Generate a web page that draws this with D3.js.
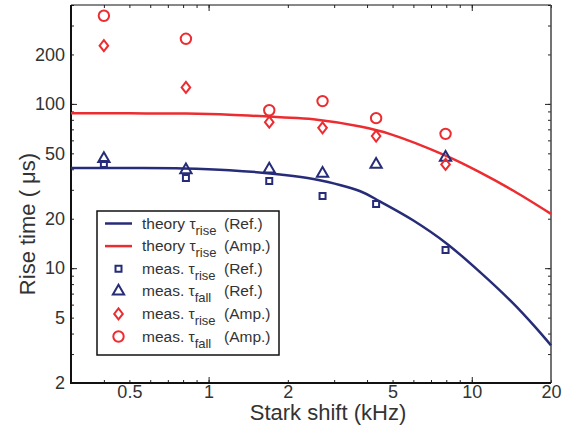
<!DOCTYPE html>
<html>
<head>
<meta charset="utf-8">
<script src="https://cdn.jsdelivr.net/npm/d3@7"></script>
<style>
  body { margin: 0; background: #fff; }
  text { font-family: "Liberation Sans", Arial, sans-serif; fill: #333; }
</style>
</head>
<body>
<div id="app"></div>
<script>
// measured stark shifts (kHz)
const measX = [0.4, 0.82, 1.7, 2.71, 4.33, 7.95];
const refRise = [43, 35.4, 33.9, 27.5, 24.6, 12.9];
const refFall = [46.4, 39.6, 40, 37.7, 42.8, 47.2];
const ampRise = [226, 126, 77.4, 71.5, 63.7, 42.8];
const ampFall = [344, 249, 91.5, 104, 81.9, 65.7];

// theory curves
const theoryRefX = [0.3, 0.5, 0.8, 1.2, 1.87, 2.5, 3.77, 4.49, 6.0, 8.04, 10.75, 14.4, 17.4, 20];
const theoryRefY = [40.7, 40.7, 40.5, 39.5, 37.2, 34.9, 29.4, 25.4, 19.5, 14.1, 9.46, 6.08, 4.39, 3.39];
const theoryAmpX = [0.3, 0.5, 0.82, 1.2, 1.87, 2.5, 3.77, 4.9, 8.04, 10.75, 14.4, 20];
const theoryAmpY = [87.8, 87.6, 87.3, 86, 83, 80.7, 72.8, 65.5, 48.1, 38.3, 29.6, 21.4];

const xMajor = [0.5, 1, 2, 5, 10, 20];
const yMajor = [2, 5, 10, 20, 50, 100, 200];

const navy = "#262c78";
const red = "#ec2c30";

const width = 574, height = 432;
const plotLeft = 71, plotRight = 551, plotTop = 5, plotBottom = 383;

const svg = d3.select("#app").append("svg")
  .attr("width", width)
  .attr("height", height);

const x = d3.scaleLog().domain([0.3, 20]).range([plotLeft, plotRight]);
const y = d3.scaleLog().domain([2, 400]).range([plotBottom, plotTop]);

// minor tick values
const xMinor = [];
[0.1, 1, 10].forEach(d => { for (let k = 1; k < 10; k++) { const v = +(d * k).toPrecision(3); if (v >= 0.3 && v <= 20) xMinor.push(v); } });
const yMinor = [];
[1, 10, 100].forEach(d => { for (let k = 1; k < 10; k++) { const v = d * k; if (v >= 2 && v <= 400) yMinor.push(v); } });
const xDec = [1, 10];
const yDec = [10, 100];

function addAxis(axisFn, scale, pos, values, size, labels) {
  const g = svg.append("g")
    .attr("transform", pos)
    .call(axisFn(scale).tickValues(values).tickSizeInner(-size).tickSizeOuter(0)
      .tickFormat(labels ? d3.format("") : ""));
  g.select(".domain").remove();
  g.selectAll(".tick line").attr("stroke", "#222").attr("stroke-width", 1);
  return g;
}

// bottom / left
addAxis(d3.axisBottom, x, `translate(0,${plotBottom})`, xMinor, 3, false);
addAxis(d3.axisBottom, x, `translate(0,${plotBottom})`, xDec, 6, false);
const xl = addAxis(d3.axisBottom, x, `translate(0,${plotBottom})`, xMajor, 0, true);
xl.selectAll(".tick text").attr("font-size", 18).attr("dy", "0.2em").attr("y", 11);

addAxis(d3.axisLeft, y, `translate(${plotLeft},0)`, yMinor, 3, false);
addAxis(d3.axisLeft, y, `translate(${plotLeft},0)`, yDec, 6, false);
const yl = addAxis(d3.axisLeft, y, `translate(${plotLeft},0)`, yMajor, 0, true);
yl.selectAll(".tick text").attr("font-size", 18).attr("x", -6);

// top / right
addAxis(d3.axisTop, x, `translate(0,${plotTop})`, xMinor, 3, false);
addAxis(d3.axisTop, x, `translate(0,${plotTop})`, xDec, 6, false);
addAxis(d3.axisRight, y, `translate(${plotRight},0)`, yMinor, 3, false);
addAxis(d3.axisRight, y, `translate(${plotRight},0)`, yDec, 6, false);

svg.selectAll(".tick text").attr("fill", "#333").attr("font-family", "Liberation Sans, Arial, sans-serif");

// frame
svg.append("line").attr("x1", plotLeft).attr("x2", plotRight).attr("y1", plotTop).attr("y2", plotTop)
  .attr("stroke", "#111").attr("stroke-width", 1);
svg.append("line").attr("x1", plotRight).attr("x2", plotRight).attr("y1", plotTop).attr("y2", plotBottom)
  .attr("stroke", "#444").attr("stroke-width", 1.5);
svg.append("line").attr("x1", plotLeft).attr("x2", plotLeft).attr("y1", plotTop).attr("y2", plotBottom + 1)
  .attr("stroke", "#111").attr("stroke-width", 2);
svg.append("line").attr("x1", plotLeft - 1).attr("x2", plotRight).attr("y1", plotBottom).attr("y2", plotBottom)
  .attr("stroke", "#111").attr("stroke-width", 2);

// theory lines
const line = d3.line().x(d => x(d[0])).y(d => y(d[1])).curve(d3.curveCatmullRom.alpha(0.5));
const plot = svg.append("g");
plot.append("path").datum(d3.zip(theoryAmpX, theoryAmpY)).attr("d", line)
  .attr("fill", "none").attr("stroke", red).attr("stroke-width", 2.5);
plot.append("path").datum(d3.zip(theoryRefX, theoryRefY)).attr("d", line)
  .attr("fill", "none").attr("stroke", navy).attr("stroke-width", 2.5);

// markers
const wideDiamond = () => "M0,-5.5L4.3,0L0,5.5L-4.3,0Z";
const sym = {
  square: d3.symbol().type(d3.symbolSquare).size(36),
  triangle: d3.symbol().type(d3.symbolTriangle).size(55),
  diamond: wideDiamond,
  circle: d3.symbol().type(d3.symbolCircle).size(85)
};

function drawMarkers(vals, shape, color) {
  plot.append("g").selectAll("path")
    .data(d3.zip(measX, vals))
    .enter()
    .append("path")
    .attr("d", sym[shape])
    .attr("transform", d => `translate(${x(d[0])},${y(d[1])})`)
    .attr("fill", "none")
    .attr("stroke", color)
    .attr("stroke-width", 2);
}
drawMarkers(refRise, "square", navy);
drawMarkers(refFall, "triangle", navy);
drawMarkers(ampRise, "diamond", red);
drawMarkers(ampFall, "circle", red);

// axis titles
svg.append("text")
  .attr("x", 328).attr("y", 420)
  .attr("text-anchor", "middle")
  .attr("font-size", 22)
  .text("Stark shift (kHz)");

svg.append("text")
  .attr("transform", "translate(35,224) rotate(-90)")
  .attr("text-anchor", "middle")
  .attr("font-size", 22)
  .text("Rise time ( μs)");

// legend
const legend = svg.append("g");
legend.append("rect")
  .attr("x", 97).attr("y", 211).attr("width", 182).attr("height", 144)
  .attr("fill", "#fff").attr("stroke", "#111").attr("stroke-width", 1.5);

const legendItems = [
  { kind: "line", color: navy, lead: "theory τ", sub: "rise", tail: "(Ref.)" },
  { kind: "line", color: red, lead: "theory τ", sub: "rise", tail: "(Amp.)" },
  { kind: "square", color: navy, lead: "meas. τ", sub: "rise", tail: "(Ref.)" },
  { kind: "triangle", color: navy, lead: "meas. τ", sub: "fall", tail: "(Ref.)" },
  { kind: "diamond", color: red, lead: "meas. τ", sub: "rise", tail: "(Amp.)" },
  { kind: "circle", color: red, lead: "meas. τ", sub: "fall", tail: "(Amp.)" }
];

legendItems.forEach((item, i) => {
  const cy = 223.5 + i * 22.6;
  if (item.kind === "line") {
    legend.append("line")
      .attr("x1", 105).attr("x2", 132).attr("y1", cy).attr("y2", cy)
      .attr("stroke", item.color).attr("stroke-width", 2.5);
  } else {
    legend.append("path")
      .attr("d", sym[item.kind])
      .attr("transform", `translate(118.5,${cy})`)
      .attr("fill", "none").attr("stroke", item.color).attr("stroke-width", 2);
  }
  const t = legend.append("text")
    .attr("x", 142).attr("y", cy + 5)
    .attr("font-size", 15.5);
  t.append("tspan").text(item.lead);
  t.append("tspan").attr("dy", 6).attr("font-size", 13).text(item.sub);
  t.append("tspan").attr("x", 224).attr("dy", -6).text(item.tail);
});
</script>
</body>
</html>
